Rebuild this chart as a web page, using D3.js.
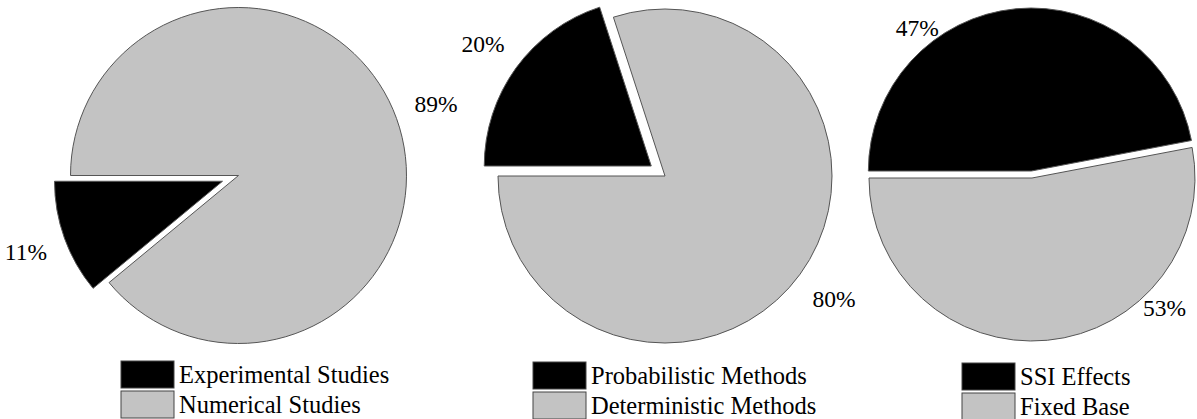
<!DOCTYPE html>
<html>
<head>
<meta charset="utf-8">
<script src="https://cdn.jsdelivr.net/npm/d3@7"></script>
<style>
  html, body { margin: 0; padding: 0; background: #fff; }
  svg { display: block; }
</style>
</head>
<body>
<svg id="chart" width="1197" height="419"></svg>
<script>
// Share of studies by approach (%)
const studyLabels = ["Experimental Studies", "Numerical Studies"];
const studyValues = [11, 89];

// Share of studies by analysis method (%)
const methodLabels = ["Probabilistic Methods", "Deterministic Methods"];
const methodValues = [20, 80];

// Share of studies by foundation modelling (%)
const modelLabels = ["SSI Effects", "Fixed Base"];
const modelValues = [47, 53];

const sliceColors = ["#000000", "#c3c3c3"];
const serif = "'Liberation Serif', 'Times New Roman', Times, 'DejaVu Serif', serif";

// Layout of each pie: centre, radius, how far the first slice is pulled out,
// where along each slice its percentage sits (fraction of the slice span) and at what distance.
const panels = [
  { labels: studyLabels, values: studyValues, cx: 238.5, cy: 175.5, r: 168, explode: 17,
    firstEnds: true, labelFrac: [0.5, 0.5], labelR: [209, 210],
    legendX: 121, legendY: 361 },
  { labels: methodLabels, values: methodValues, cx: 665, cy: 176, r: 167, explode: 17,
    firstEnds: false, labelFrac: [0.5, 0.5], labelR: [208, 209],
    legendX: 533, legendY: 362 },
  { labels: modelLabels, values: modelValues, cx: 1032, cy: 178, r: 163, explode: 7,
    firstEnds: false, labelFrac: [0.304, 0.29], labelR: [183, 186],
    legendX: 962, legendY: 363 }
];

const svg = d3.select("#chart");

panels.forEach(p => {
  const total = d3.sum(p.values);
  // The first slice either starts at 9 o'clock or finishes there
  const start = p.firstEnds
    ? -Math.PI / 2 - 2 * Math.PI * p.values[0] / total
    : -Math.PI / 2;

  const pie = d3.pie().sort(null).value(d => d)
    .startAngle(start).endAngle(start + 2 * Math.PI);
  const arcs = pie(p.values);
  const arc = d3.arc().innerRadius(0).outerRadius(p.r);

  const g = svg.append("g").attr("transform", `translate(${p.cx},${p.cy})`);

  // Draw the larger (grey) slice first, then the pulled-out one over it
  const order = [1, 0];
  order.forEach(i => {
    const a = arcs[i];
    const mid = (a.startAngle + a.endAngle) / 2;
    const off = i === 0 ? p.explode : 0;
    const dx = Math.sin(mid) * off, dy = -Math.cos(mid) * off;
    g.append("path")
      .attr("d", arc(a))
      .attr("transform", `translate(${dx},${dy})`)
      .attr("fill", sliceColors[i])
      .attr("stroke", "#555")
      .attr("stroke-width", 1)
      .attr("stroke-linejoin", "miter");

    const la = a.startAngle + (a.endAngle - a.startAngle) * p.labelFrac[i];
    const lr = p.labelR[i];
    g.append("text")
      .attr("x", dx + Math.sin(la) * lr)
      .attr("y", dy - Math.cos(la) * lr)
      .attr("dy", "0.34em")
      .attr("text-anchor", "middle")
      .attr("font-family", serif)
      .attr("font-size", 23.5)
      .attr("fill", "#000")
      .text(d3.format(".0f")(100 * a.value / total) + "%");
  });

  // Legend
  const lg = svg.append("g").attr("transform", `translate(${p.legendX},${p.legendY})`);
  p.labels.forEach((name, i) => {
    lg.append("rect")
      .attr("x", 0).attr("y", i * 30)
      .attr("width", 53).attr("height", 27)
      .attr("fill", sliceColors[i])
      .attr("stroke", "#444")
      .attr("stroke-width", 1);
    lg.append("text")
      .attr("x", 58).attr("y", i * 30 + 22)
      .attr("font-family", serif)
      .attr("font-size", 24.5)
      .attr("fill", "#000")
      .text(name);
  });
});
</script>
</body>
</html>
